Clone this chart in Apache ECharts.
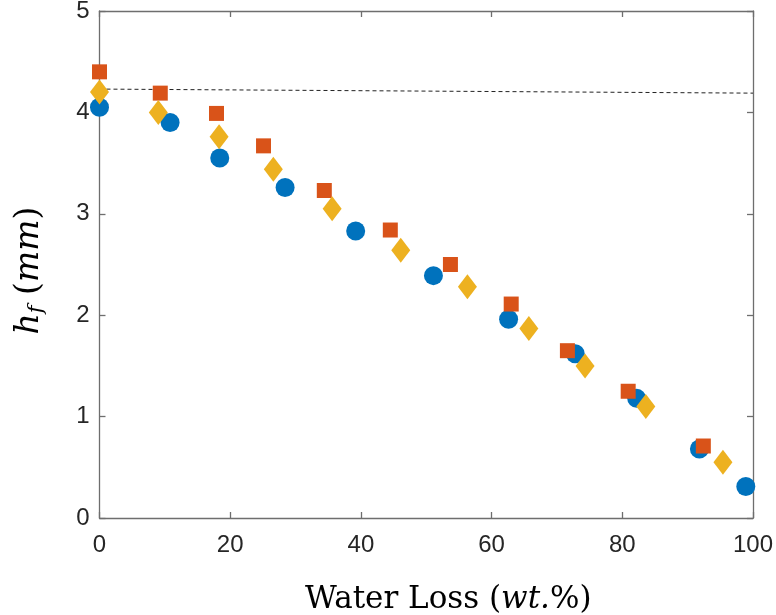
<!DOCTYPE html>
<html>
<head>
<meta charset="utf-8">
<script src="https://cdn.jsdelivr.net/npm/echarts@6/dist/echarts.min.js"></script>
<style>html,body{margin:0;padding:0;background:#fff}#c{width:776px;height:615px}</style>
</head>
<body>
<div id="c"></div>
<script>
const blueX = [0, 10.8, 18.4, 28.4, 39.2, 51.1, 62.6, 72.8, 82.2, 91.8, 98.9];
const blueY = [4.05, 3.90, 3.55, 3.26, 2.83, 2.39, 1.96, 1.62, 1.18, 0.68, 0.31];
const orangeX = [0, 9.3, 17.9, 25.1, 34.4, 44.5, 53.7, 63.0, 71.6, 80.9, 92.4];
const orangeY = [4.40, 4.19, 3.99, 3.67, 3.23, 2.84, 2.50, 2.11, 1.65, 1.25, 0.71];
const yellowX = [0, 9.0, 18.3, 26.6, 35.6, 46.1, 56.3, 65.7, 74.3, 83.6, 95.4];
const yellowY = [4.20, 4.00, 3.76, 3.44, 3.05, 2.64, 2.28, 1.87, 1.50, 1.10, 0.55];
const refLineX = [0, 100];
const refLineY = [4.23, 4.19];
const xTicks = [0, 20, 40, 60, 80, 100];
const yTicks = [0, 1, 2, 3, 4, 5];

const zip = (a, b) => a.map((v, i) => [v, b[i]]);
const axisColor = '#6e6e6e';
const labelColor = '#262626';
const tickFont = 'Liberation Sans';
const serif = 'DejaVu Serif';

const lineCfg = {show: true, onZero: false, lineStyle: {color: axisColor, width: 1.3}};
const tickCfg = {show: true, inside: true, length: 6, lineStyle: {color: axisColor, width: 1.3}};

const chart = echarts.init(document.getElementById('c'), null, {renderer: 'canvas'});
chart.setOption({
  animation: false,
  backgroundColor: '#fff',
  grid: {left: 99.5, right: 23, top: 11, bottom: 97, containLabel: false, outerBoundsMode: 'none'},
  xAxis: [{
    type: 'value', min: xTicks[0], max: xTicks[xTicks.length - 1], interval: 20, position: 'bottom',
    axisLine: lineCfg, axisTick: tickCfg,
    splitLine: {show: false},
    axisLabel: {color: labelColor, fontSize: 24, fontFamily: tickFont, margin: 15},
    name: '{n|Water Loss (}{i|wt.}{n|%)}',
    nameLocation: 'middle', nameGap: 66,
    nameTextStyle: {
      padding: [0, 0, 0, 44],
      rich: {
        n: {fontFamily: serif, fontSize: 31, color: '#000'},
        i: {fontFamily: serif, fontStyle: 'italic', fontSize: 31, color: '#000'}
      }
    }
  }, {
    type: 'value', min: xTicks[0], max: xTicks[xTicks.length - 1], interval: 20, position: 'top',
    axisLine: lineCfg, axisTick: tickCfg,
    splitLine: {show: false}, axisLabel: {show: false}
  }],
  yAxis: [{
    type: 'value', min: yTicks[0], max: yTicks[yTicks.length - 1], interval: 1, position: 'left',
    axisLine: lineCfg, axisTick: tickCfg,
    splitLine: {show: false},
    axisLabel: {color: labelColor, fontSize: 24, fontFamily: tickFont, margin: 10},
    name: '{i|h}{s|f}{n| (}{i|mm}{n|)}',
    nameLocation: 'middle', nameGap: 52, nameRotate: 90,
    nameTextStyle: {
      padding: [0, 12, 0, 0],
      rich: {
        n: {fontFamily: serif, fontSize: 33, color: '#000'},
        i: {fontFamily: serif, fontStyle: 'italic', fontSize: 33, color: '#000'},
        s: {fontFamily: serif, fontStyle: 'italic', fontSize: 21, color: '#000', padding: [15, 0, 0, 0]}
      }
    }
  }, {
    type: 'value', min: yTicks[0], max: yTicks[yTicks.length - 1], interval: 1, position: 'right',
    axisLine: lineCfg, axisTick: tickCfg,
    splitLine: {show: false}, axisLabel: {show: false}
  }],
  series: [{
    type: 'line', data: zip(refLineX, refLineY), symbol: 'none',
    lineStyle: {color: '#222', width: 1, type: [4, 3]}, z: 1, silent: true
  }, {
    type: 'scatter', data: zip(blueX, blueY), symbol: 'circle', symbolSize: 19,
    itemStyle: {color: '#0072BD', opacity: 1}, z: 2
  }, {
    type: 'scatter', data: zip(orangeX, orangeY), symbol: 'rect', symbolSize: 15,
    itemStyle: {color: '#D95319', opacity: 1}, z: 3
  }, {
    type: 'scatter', data: zip(yellowX, yellowY), symbol: 'diamond', symbolSize: [19, 25],
    itemStyle: {color: '#EDB120', opacity: 1}, z: 4
  }]
});
</script>
</body>
</html>
